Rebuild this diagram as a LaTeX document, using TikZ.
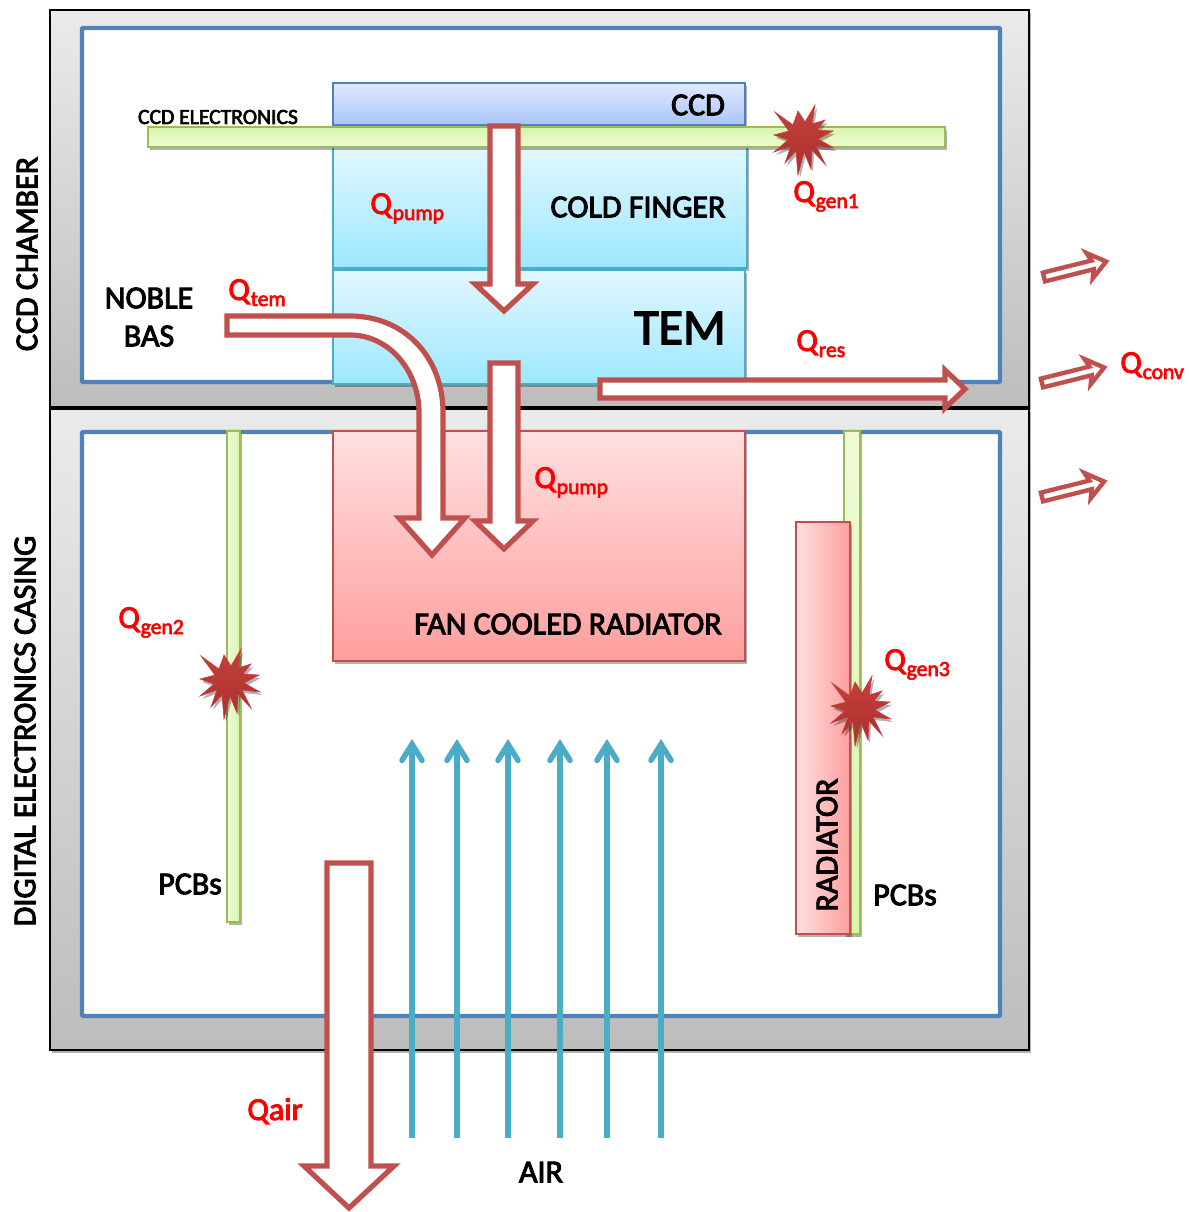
\documentclass[tikz,border=0pt]{standalone}
\usepackage{fontspec}
\setmainfont[FakeBold=3]{Carlito}
\usepackage{xcolor}
\usepackage{tikz}
\usetikzlibrary{arrows.meta,shadows}
\definecolor{AzulPared}{RGB}{79,129,189}
\definecolor{RojoCalor}{RGB}{192,80,77}
\definecolor{RojoTexto}{RGB}{255,0,0}
\definecolor{VerdePlaca}{RGB}{155,187,89}
\definecolor{VerdeClaro}{RGB}{240,251,214}
\definecolor{VerdeMedio}{RGB}{215,245,170}
\definecolor{CianFrio}{RGB}{75,172,198}
\definecolor{CianClaro}{RGB}{226,247,255}
\definecolor{CianMedio}{RGB}{157,232,255}
\definecolor{AzulClaro}{RGB}{224,233,255}
\definecolor{AzulMedio}{RGB}{170,197,248}
\definecolor{RosaClaro}{RGB}{255,224,224}
\definecolor{RosaMedio}{RGB}{255,158,158}
\definecolor{RojoEstrella}{RGB}{198,64,60}
\definecolor{RojoOscuro}{RGB}{168,48,46}
\newcommand{\heatlabel}[1]{\textcolor{RojoTexto}{Q\hspace{0.4pt}\raisebox{-3pt}{\fontsize{10.8}{12}\selectfont #1}}}
\tikzset{
  softshadow/.style={drop shadow={shadow xshift=1pt,shadow yshift=-1.5pt,opacity=.3,fill=black}},
  casing/.style={draw=black,line width=0.8pt,top color=black!8,bottom color=black!26},
  wall/.style={draw=AzulPared,line width=2.2pt,fill=white,rounded corners=0.5pt},
  board/.style={draw=VerdePlaca,line width=1pt,softshadow},
  coldbox/.style={draw=CianFrio,line width=1.2pt,top color=CianClaro,bottom color=CianMedio,softshadow},
  hotbox/.style={draw=RojoCalor,line width=0.8pt,softshadow},
  heatarrow/.style={draw=RojoCalor,line width=2.6pt,fill=white,miter limit=10},
  label/.style={inner sep=0pt,font=\fontsize{16}{18}\selectfont,align=center},
  qlabel/.style={inner sep=0pt,anchor=base west,font=\fontsize{16}{18}\selectfont},
  pics/burst/.style={code={
    \draw[draw=RojoEstrella,line width=0.3pt,top color=RojoEstrella,bottom color=RojoOscuro,softshadow]
      (12,-32)--(9,-13)--(22,-17)--(14,-7)--(30,-6)--(15,2)--(31,11)--(13,9)--(22,27)--(9,13)
      --(8,32)--(1,15)--(-5,38)--(-7,14)--(-18,26)--(-12,9)--(-29,15)--(-15,3)--(-29,-2)--(-14,-6)
      --(-28,-25)--(-10,-12)--(-5,-26)--(2,-15)--cycle;}},
  pics/convarrow/.style={code={
    \draw[draw=RojoCalor,line width=2.2pt,fill=white,rotate=14]
      (0,-4.5)--(50,-4.5)--(47,-13)--(64,0)--(47,13)--(50,4.5)--(0,4.5)--cycle;}}
}
\begin{document}
\begin{tikzpicture}[>=Latex,x=0.5pt,y=-0.5pt]
  \useasboundingbox (0,0) rectangle (1189,1212);
  % casings
  \draw[casing,softshadow] (50,10) rectangle (1029,407);
  \draw[casing,softshadow] (50,409) rectangle (1029,1050);
  \draw[wall] (82,28) rectangle (1000,382);
  \draw[wall] (82,432) rectangle (1000,1016);
  % upper stack
  \draw[draw=AzulPared,line width=0.8pt,top color=AzulClaro,bottom color=AzulMedio,softshadow] (333,83) rectangle (745,125);
  \draw[coldbox] (333,146) rectangle (747,268);
  \draw[coldbox] (333,270) rectangle (745,384);
  \draw[board,top color=VerdeMedio,bottom color=VerdeClaro] (148,127) rectangle (945,147);
  % lower stack
  \draw[hotbox,top color=RosaClaro,bottom color=RosaMedio] (333,431) rectangle (745,661);
  \draw[board,left color=VerdeClaro,right color=VerdeMedio] (227,431) rectangle (240,922);
  \draw[board,top color=VerdeClaro,bottom color=VerdeMedio] (844,431) rectangle (860,934);
  \draw[hotbox,line width=1pt,left color=RosaClaro,right color=RosaMedio] (796,522) rectangle (850,934);
  % air flow
  \foreach \x in {412,457,508,560,607,661}
    \draw[-{Straight Barb[length=8pt,width=10pt,line cap=round]},draw=CianFrio,line width=2.8pt] (\x,1138)--(\x,739);
  % heat flow
  \draw[heatarrow] (490,126)--(518,126)--(518,284)--(533,284)--(504,311)--(475,284)--(490,284)--cycle;
  \draw[heatarrow] (227,316)--(350,316) .. controls (405,316) and (443,358) .. (443,412)
    --(443,518)--(465,518)--(432,555)--(399,518)--(419,518)--(419,412)
    .. controls (419,372) and (390,335) .. (350,335)--(227,335)--cycle;
  \draw[heatarrow] (490,363)--(518,363)--(518,521)--(533,521)--(504,549)--(475,521)--(490,521)--cycle;
  \draw[heatarrow] (600,380)--(945,380)--(945,370)--(965,389)--(945,408)--(945,398)--(600,398)--cycle;
  \draw[heatarrow] (327,863)--(371,863)--(371,1166)--(394,1166)--(349,1208)--(304,1166)--(327,1166)--cycle;
  \pic at (1044,277) {convarrow};
  \pic at (1042,383) {convarrow};
  \pic at (1042,497) {convarrow};
  % hot spots
  \pic at (803,137) {burst};
  \pic at (229,681) {burst};
  \pic at (860,708) {burst};
  % texts
  \node[label,rotate=90] (chamberlabel) at (27,254) {CCD CHAMBER};
  \node[label,rotate=90] (casinglabel) at (25,731) {DIGITAL ELECTRONICS CASING};
  \node[label,font=\fontsize{10.8}{12}\selectfont] (electronicslabel) at (218,117) {CCD ELECTRONICS};
  \node[label] (ccdlabel) at (698,105) {CCD};
  \node[label] (fingerlabel) at (638,207) {COLD FINGER};
  \node[label,font=\fontsize{25}{28}\selectfont] (temlabel) at (680,328) {TEM};
  \node[label] (noblelabel) at (149,298) {NOBLE};
  \node[label] (baslabel) at (149,336) {BAS};
  \node[label] (fanlabel) at (568,624) {FAN COOLED RADIATOR};
  \node[label] (airlabel) at (541,1172) {AIR};
  \node[label] (pcbleftlabel) at (190,884) {PCBs};
  \node[label] (pcbrightlabel) at (905,895) {PCBs};
  \node[label,rotate=90] (radiatorlabel) at (827,845) {RADIATOR};
  \node[qlabel] (qpumpup) at (370,214) {\heatlabel{pump}};
  \node[qlabel] (qtem) at (228,300) {\heatlabel{tem}};
  \node[qlabel] (qgenone) at (793,202) {\heatlabel{gen1}};
  \node[qlabel] (qres) at (796,351) {\heatlabel{res}};
  \node[qlabel] (qconv) at (1120,373) {\heatlabel{conv}};
  \node[qlabel] (qpumpdown) at (534,488) {\heatlabel{pump}};
  \node[qlabel] (qgentwo) at (118,628) {\heatlabel{gen2}};
  \node[qlabel] (qgenthree) at (884,670) {\heatlabel{gen3}};
  \node[qlabel,text=RojoTexto] (qair) at (247,1120) {Qair};
\end{tikzpicture}
\end{document}
